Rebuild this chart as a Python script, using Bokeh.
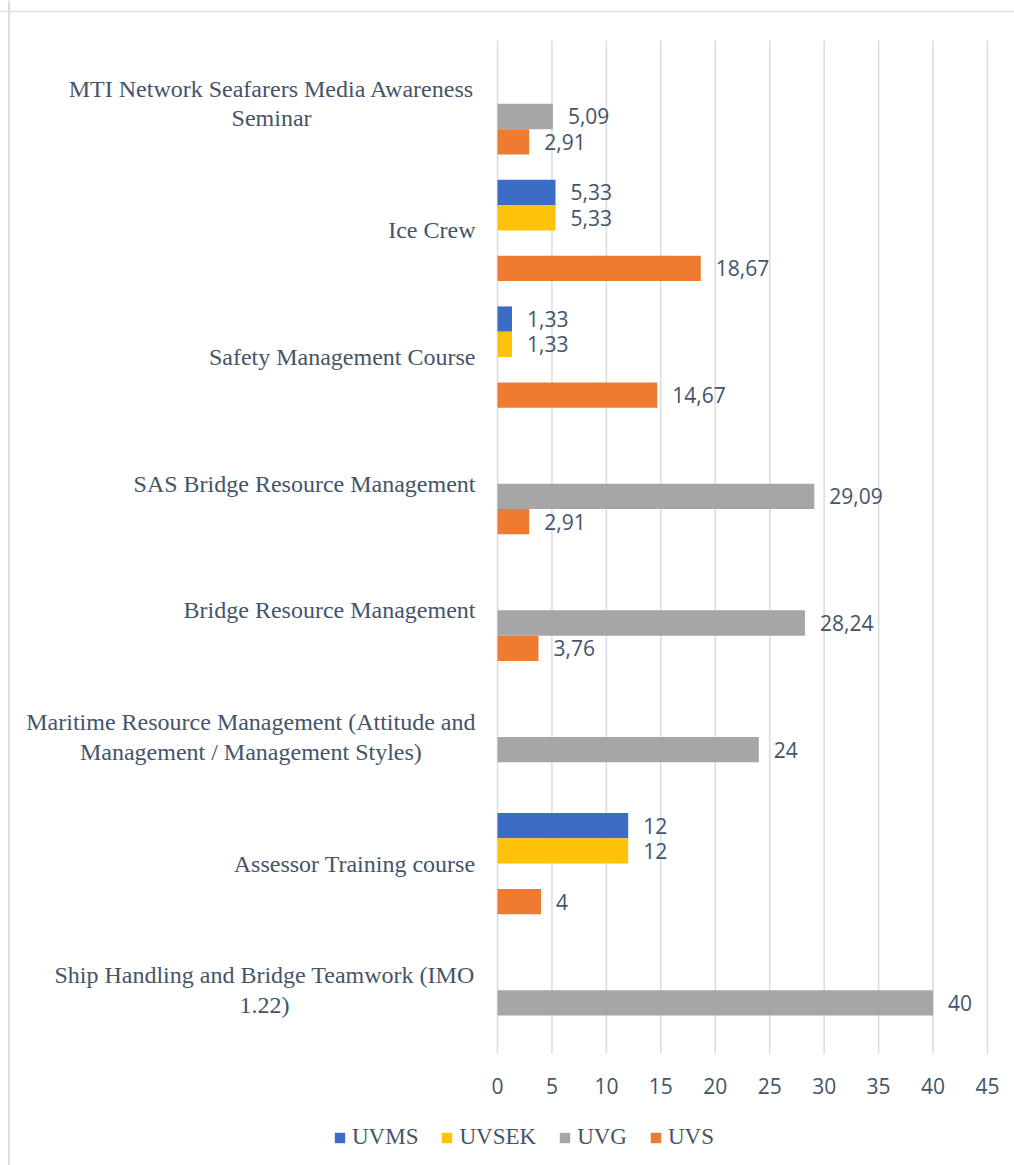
from bokeh.plotting import figure
from bokeh.models import Range1d, ColumnDataSource, Legend, LegendItem, Span
from bokeh.core.properties import value
from bokeh.embed import file_html
from bokeh.resources import INLINE

# ---------------- data ----------------
categories = [
    "MTI Network Seafarers Media Awareness\nSeminar",
    "Ice Crew",
    "Safety Management Course",
    "SAS Bridge Resource Management",
    "Bridge Resource Management",
    "Maritime Resource Management (Attitude and\nManagement / Management Styles)",
    "Assessor Training course",
    "Ship Handling and Bridge Teamwork (IMO\n1.22)",
]
series_names = ["UVMS", "UVSEK", "UVG", "UVS"]
uvms = [None, 5.33, 1.33, None, None, None, 12, None]
uvsek = [None, 5.33, 1.33, None, None, None, 12, None]
uvg = [5.09, None, None, 29.09, 28.24, 24, None, 40]
uvs = [2.91, 18.67, 14.67, 2.91, 3.76, None, 4, None]
x_ticks = [0, 5, 10, 15, 20, 25, 30, 35, 40, 45]

# ---------------- style / layout ----------------
series_values = [uvms, uvsek, uvg, uvs]
colors = ["#3D6CC6", "#FFC20A", "#A6A6A6", "#EE7B30"]
offsets = [0.3, 0.1, -0.1, -0.3]
TEXT = "#44546A"
GRID = "#D9DCE1"
W, H = 1014, 1165
FL, FR, FT, FB = 497, 987, 40, 1053   # plotting area in px
XMAX = 45
n = len(categories)
kx = (FR - FL) / XMAX
ky = (FB - FT) / n

# Times New Roman / Liberation Serif advance widths (per 1000 em) for centring wrapped labels
TW = {' ': 250, '(': 333, ')': 333, '/': 278, '.': 250, '1': 500, '2': 500,
      'A': 722, 'B': 667, 'C': 667, 'H': 722, 'I': 333, 'M': 889, 'N': 722,
      'O': 722, 'R': 667, 'S': 556, 'T': 611, 'W': 944, 'a': 444, 'b': 500,
      'c': 444, 'd': 500, 'e': 444, 'f': 333, 'g': 500, 'h': 500, 'i': 278,
      'k': 500, 'l': 278, 'm': 778, 'n': 500, 'o': 500, 'p': 500, 'r': 333,
      's': 389, 't': 278, 'u': 500, 'w': 722, 'y': 500}
CAT_FS = 24

def text_w(s):
    return sum(TW.get(ch, 500) for ch in s) / 1000 * CAT_FS

p = figure(
    width=W, height=H,
    x_range=Range1d(-FL / kx, (W - FL) / kx),
    y_range=Range1d(-(H - FB) / ky, n + FT / ky),
    output_backend="svg", toolbar_location=None,
    min_border=0,
)
p.outline_line_color = None
p.axis.visible = False
p.grid.visible = False
p.background_fill_color = None
p.border_fill_color = "white"

# chart-area border (left and top edges)
p.add_layout(Span(location=(8.5 - FL) / kx, dimension="height", line_color="#DADDE3", line_width=2))
p.add_layout(Span(location=n + (FT - 11) / ky, dimension="width", line_color="#DADDE3", line_width=1.5))

# vertical gridlines
p.segment(x0=x_ticks, y0=[0] * len(x_ticks), x1=x_ticks, y1=[n] * len(x_ticks),
          line_color=GRID, line_width=1.5)

# tick labels
p.text(x=x_ticks, y=[-(1085 - FB) / ky] * len(x_ticks), text=[str(t) for t in x_ticks],
       text_align="center", text_baseline="middle",
       text_font=value("Open Sans"), text_font_size="21px", text_color=TEXT)

# category labels (centre of category i from top)
cat_y = [n - i - 0.5 for i in range(n)]
single = [(c, y) for c, y in zip(categories, cat_y) if "\n" not in c]
multi = [(c, y) for c, y in zip(categories, cat_y) if "\n" in c]
p.text(x=[0] * len(single), y=[y for _, y in single], text=[c for c, _ in single],
       x_offset=-22, text_align="right", text_baseline="middle",
       text_font=value("Liberation Serif"), text_font_size=f"{CAT_FS}px", text_color=TEXT)
for c, y in multi:
    wmax = max(text_w(line) for line in c.split("\n"))
    p.text(x=[0], y=[y], text=[c], x_offset=-22 - wmax / 2,
           text_align="center", text_baseline="middle", text_line_height=1.13,
           text_font=value("Liberation Serif"), text_font_size=f"{CAT_FS}px", text_color=TEXT)

items = []
for name, vals, col, off in zip(series_names, series_values, colors, offsets):
    ys = [y + off for y, v in zip(cat_y, vals) if v is not None]
    vs = [v for v in vals if v is not None]
    labels = [f"{v:g}".replace(".", ",") for v in vs]
    src = ColumnDataSource(dict(y=ys, val=vs, lab=labels))
    r = p.hbar(y="y", right="val", left=0, height=0.2,
               source=src, fill_color=col, line_color=None)
    p.text(x="val", y="y", text="lab", source=src,
           x_offset=15, text_baseline="middle", text_align="left",
           text_font=value("Open Sans"), text_font_size="21px", text_color=TEXT)
    items.append(LegendItem(label=name, renderers=[r]))

legend = Legend(items=items, orientation="horizontal", location=(333, 15),
                border_line_color=None, background_fill_color=None, background_fill_alpha=0,
                label_text_font="Liberation Serif", label_text_font_size="23px",
                label_text_color=TEXT, glyph_width=13, glyph_height=13, label_height=26,
                spacing=22, label_standoff=6, padding=0, margin=0)
p.add_layout(legend, "center")

open("out.html", "w").write(file_html(p, INLINE))
